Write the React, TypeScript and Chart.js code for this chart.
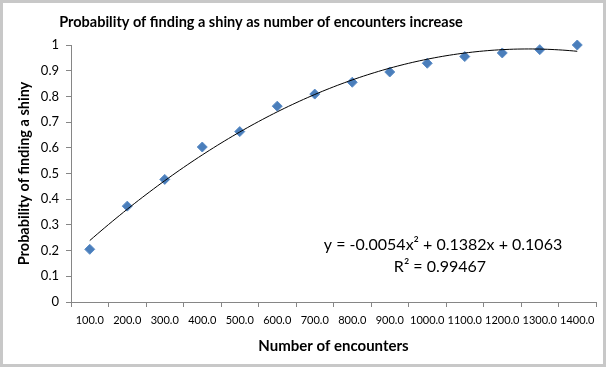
import React, { useEffect, useRef } from "react";
import { Chart, registerables } from "chart.js";

Chart.register(...registerables);

const categories = ["100.0", "200.0", "300.0", "400.0", "500.0", "600.0", "700.0", "800.0", "900.0", "1000.0", "1100.0", "1200.0", "1300.0", "1400.0"];
const probabilities = [0.205, 0.373, 0.477, 0.603, 0.663, 0.762, 0.809, 0.855, 0.895, 0.929, 0.955, 0.969, 0.982, 1.0];
// Polynomial trendline coefficients (unrounded estimate of the displayed equation): a*x^2 + b*x + c
const trendCoefficients = [-0.00544, 0.13825, 0.10625];
const equationLines = ["y = -0.0054x\u00B2 + 0.1382x + 0.1063", "R\u00B2 = 0.99467"];
const chartTitle = "Probability of finding a shiny as number of encounters increase";
const xTitle = "Number of encounters";
const yTitle = "Probability of finding a shiny";

const FONT = "Lato, 'Open Sans', sans-serif";

export default function App() {
  const ref = useRef<HTMLCanvasElement>(null);

  useEffect(() => {
    if (!ref.current) return;
    const pointData = probabilities.map((y, i) => ({ x: i + 1, y }));
    const trendData: { x: number; y: number }[] = [];
    for (let i = 0; i <= 130; i++) {
      const x = 1 + i * 0.1;
      trendData.push({ x, y: trendCoefficients[0] * x * x + trendCoefficients[1] * x + trendCoefficients[2] });
    }

    const overlay = {
      id: "overlay",
      afterDraw(chart: any) {
        const ctx = chart.ctx as CanvasRenderingContext2D;
        ctx.save();
        ctx.fillStyle = "#000";
        ctx.textAlign = "center";
        ctx.textBaseline = "alphabetic";
        ctx.font = `bold 14.5px ${FONT}`;
        ctx.fillText(chartTitle, 261, 27);
        ctx.font = `16px ${FONT}`;
        ctx.textBaseline = "middle";
        ctx.fillText(equationLines[0], 443, 245);
        ctx.fillText(equationLines[1], 440, 267);
        ctx.strokeStyle = "#c8c8c8";
        ctx.lineWidth = 3;
        ctx.strokeRect(1.5, 1.5, 603, 364);
        ctx.restore();
      },
    };

    const chart = new Chart(ref.current, {
      type: "scatter",
      data: {
        labels: categories,
        datasets: [
          {
            label: "Probability",
            data: pointData,
            xAxisID: "xl",
            yAxisID: "y",
            showLine: false,
            pointStyle: "rectRot",
            pointRadius: 5,
            backgroundColor: "#4a7ebb",
            borderColor: "#5b8cc6",
            borderWidth: 1,
            clip: false,
            order: 1,
          },
          {
            type: "line",
            label: "Trend",
            data: trendData,
            xAxisID: "xl",
            yAxisID: "y",
            borderColor: "#000",
            borderWidth: 1,
            pointRadius: 0,
            fill: false,
            tension: 0,
            clip: false,
            order: 0,
          } as any,
        ],
      },
      options: {
        animation: false,
        responsive: false,
        layout: { padding: { left: 12, right: 12, top: 45, bottom: 10 } },
        plugins: { legend: { display: false }, tooltip: { enabled: false } },
        scales: {
          x: {
            type: "category",
            labels: categories,
            offset: true,
            position: "bottom",
            grid: { offset: true, drawOnChartArea: false, tickLength: 5, color: "#868686" },
            border: { color: "#868686" },
            ticks: { autoSkip: false, maxRotation: 0, minRotation: 0, color: "#000", padding: 7, font: { family: FONT, size: 11 } },
            title: { display: true, text: xTitle, color: "#000", font: { family: FONT, size: 15, weight: "bold" } },
            afterFit(scale: any) {
              scale.height = 57;
            },
          },
          xl: { type: "linear", display: false, min: 0.5, max: 14.5 },
          y: {
            min: 0,
            max: 1,
            grid: { drawOnChartArea: false, tickLength: 5, color: "#868686" },
            border: { color: "#868686" },
            ticks: {
              stepSize: 0.1,
              color: "#000",
              padding: 7,
              font: { family: FONT, size: 13 },
              callback: (v: any) => String(Number(Number(v).toFixed(1))),
            },
            title: { display: true, text: yTitle, color: "#000", font: { family: FONT, size: 14.5, weight: "bold" } },
            afterFit(scale: any) {
              scale.width = 59;
            },
          },
        },
      } as any,
      plugins: [overlay],
    });
    return () => chart.destroy();
  }, []);

  return (
    <div style={{ position: "fixed", left: 0, top: 0, width: 608, height: 369, background: "#fff" }}>
      <canvas ref={ref} width={608} height={369} />
    </div>
  );
}
